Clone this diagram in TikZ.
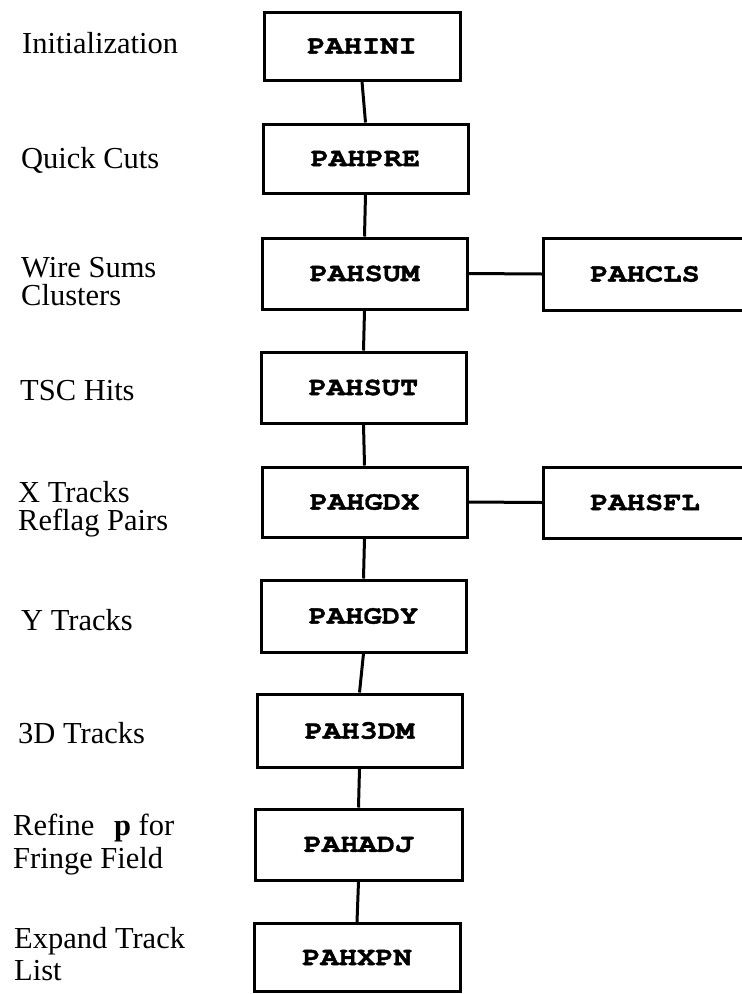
\documentclass[tikz,border=0pt]{standalone}
\usepackage{fontspec}
\setmainfont{Liberation Serif}
\newfontfamily\boxfont{texgyrecursor-bold.otf}[FakeStretch=1.17,FakeBold=1.5]
\begin{document}
\begin{tikzpicture}[x=1pt,y=-1pt,
  prog/.style={draw=black,line width=3pt,minimum width=205pt,minimum height=70pt,
    inner sep=0pt,font=\boxfont\fontsize{26}{26}\selectfont},
  lbl/.style={anchor=base west,inner sep=0pt,font=\fontsize{30.5}{30}\selectfont},
  link/.style={line width=3pt}]
\useasboundingbox (0,0) rectangle (742,994);
\clip (0,0) rectangle (742,994);
\fill[white] (0,0) rectangle (742,994);
% program boxes
\node[prog,minimum width=196pt,minimum height=68pt] (ini) at (362,46) {PAHINI};
\node[prog,minimum height=69pt] (pre) at (365.5,158.5) {PAHPRE};
\node[prog,minimum height=71pt] (sum) at (364.5,273.5) {PAHSUM};
\node[prog,minimum width=203pt,minimum height=72pt] (cls) at (645,274) {PAHCLS};
\node[prog,minimum height=71pt] (sut) at (363.5,387.5) {PAHSUT};
\node[prog,minimum height=70pt] (gdx) at (364.5,502) {PAHGDX};
\node[prog,minimum width=203pt,minimum height=71pt] (sfl) at (645,502.5) {PAHSFL};
\node[prog,minimum height=72pt] (gdy) at (363.5,616) {PAHGDY};
\node[prog,minimum height=73pt] (tdm) at (359.5,730.5) {PAH3DM};
\node[prog,minimum width=207pt,minimum height=71pt] (adj) at (358.5,844.5) {PAHADJ};
\node[prog,minimum width=206pt,minimum height=68pt] (xpn) at (357,957.5) {PAHXPN};
% connectors
\draw[link] (ini.south) -- (pre.north);
\draw[link] (pre.south) -- (sum.north);
\draw[link] (sum.south) -- (sut.north);
\draw[link] (sut.south) -- (gdx.north);
\draw[link] (gdx.south) -- (gdy.north);
\draw[link] (gdy.south) -- (tdm.north);
\draw[link] (tdm.south) -- (adj.north);
\draw[link] (adj.south) -- (xpn.north);
\draw[link] (sum.east) -- (cls.west);
\draw[link] (gdx.east) -- (sfl.west);
% labels
\node[lbl] (t1) at (22,53) {Initialization};
\node[lbl] (t2) at (21,168) {Quick Cuts};
\node[lbl] (t3a) at (21,277) {Wire Sums};
\node[lbl] (t3b) at (21,305) {Clusters};
\node[lbl] (t4) at (20,400) {TSC Hits};
\node[lbl] (t5a) at (18,502) {X Tracks};
\node[lbl] (t5b) at (18,530) {Reflag Pairs};
\node[lbl] (t6) at (21,630) {Y Tracks};
\node[lbl] (t7) at (18,743) {3D Tracks};
\node[lbl] (t8a) at (13,835) {Refine\hspace{12pt} \textbf{p} for};
\node[lbl] (t8b) at (13,868) {Fringe Field};
\node[lbl] (t9a) at (14,948) {Expand Track};
\node[lbl] (t9b) at (14,980) {List};
\end{tikzpicture}
\end{document}
